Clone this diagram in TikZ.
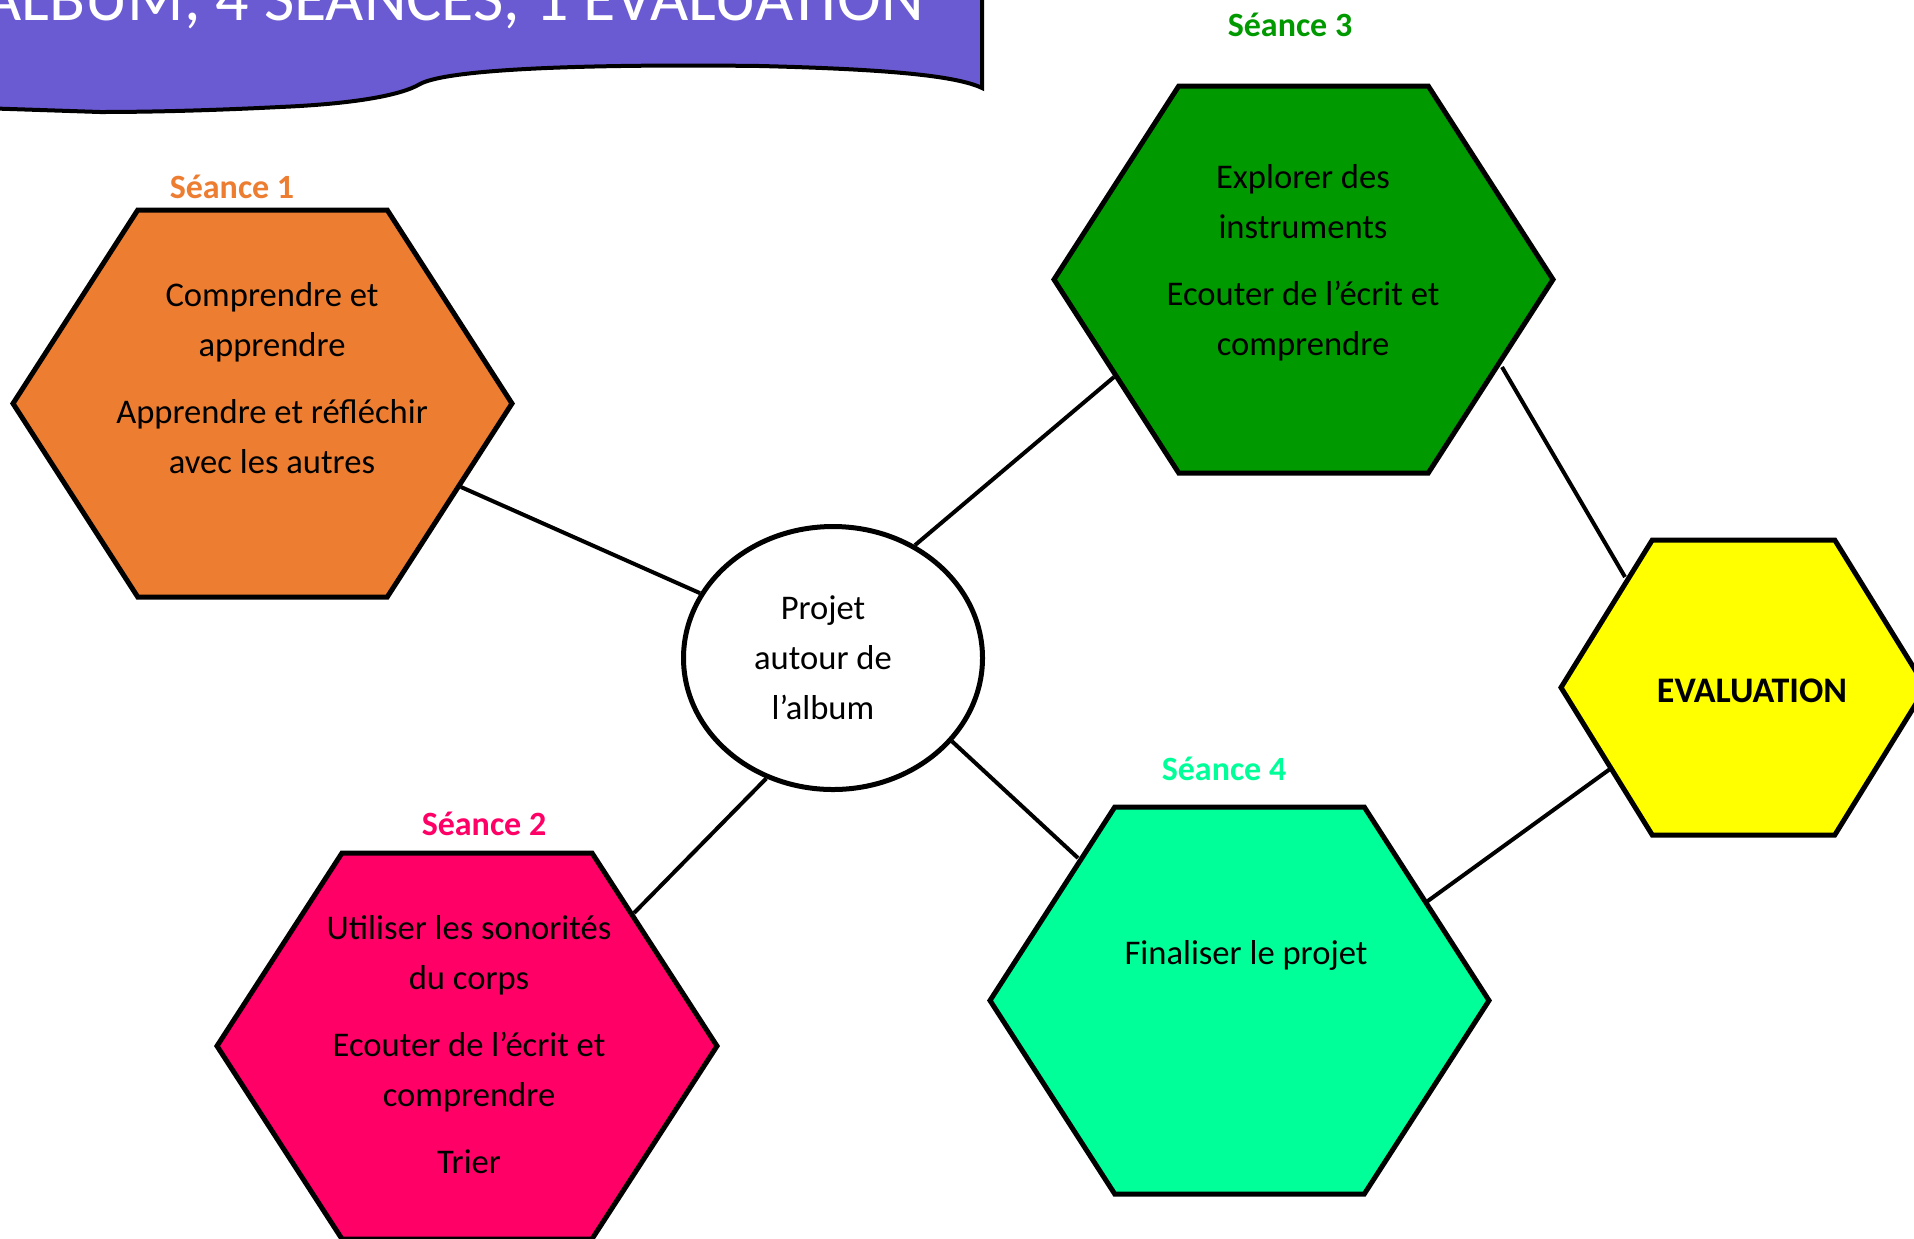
\documentclass[tikz,border=0pt]{standalone}
\usepackage{fontspec}
\setmainfont{Carlito}
\usetikzlibrary{shapes.geometric}
\definecolor{cOrange}{HTML}{ED7D31}
\definecolor{cGreen}{HTML}{009900}
\definecolor{cPink}{HTML}{FF0066}
\definecolor{cTeal}{HTML}{00FF99}
\definecolor{cYellow}{HTML}{FFFF00}
\definecolor{cPurple}{HTML}{6B5BD3}
\newcommand\mystrut{\rule[-0.25em]{0pt}{1em}}
% #1 name, #2 cx, #3 cy, #4 width, #5 height, #6 fill
\newcommand\hexa[6]{%
  \coordinate (#1) at (#2,#3);
  \path[hexshape, fill=#6] (#2-#4/2,#3) -- (#2-#4/4,#3-#5/2) -- (#2+#4/4,#3-#5/2)
    -- (#2+#4/2,#3) -- (#2+#4/4,#3+#5/2) -- (#2-#4/4,#3+#5/2) -- cycle;}
\tikzset{
  hexshape/.style={draw=black, line width=2.5pt, line join=miter},
  link/.style={draw=black, line width=2pt},
  bodytext/.style={align=center, inner sep=0pt, font=\fontsize{17.3pt}{25pt}\selectfont},
  seancelab/.style={anchor=base, inner sep=0pt, font=\fontsize{17pt}{20pt}\selectfont\bfseries},
}
\begin{document}
\begin{tikzpicture}[x=0.5pt,y=-0.5pt]
\useasboundingbox (0,0) rectangle (1914,1238);
\clip (0,0) rectangle (1914,1238);
% title banner
\path[fill=cPurple, draw=black, line width=2pt] (-20,-80) -- (982,-80) -- (982,88)
  .. controls (955,75) and (880,69) .. (760,66)
  .. controls (600,64) and (450,68) .. (420,84)
  .. controls (400,96) and (350,104) .. (280,107)
  .. controls (200,111) and (140,112) .. (100,112)
  -- (-20,108) -- cycle;
\node[anchor=base east, inner sep=0pt, text=white, font=\fontsize{33pt}{40pt}\selectfont] (title) at (924,20) {ALBUM, 4 SÉANCES, 1 ÉVALUATION};
% centre
\node[ellipse, draw=black, line width=2.5pt, fill=white, minimum width=149.5pt, minimum height=131.5pt, inner sep=0pt] (ctr) at (833,658) {};
% connector end points
\coordinate (h1e) at (461,487);
\coordinate (h3a) at (1114,377);
\coordinate (h2e) at (634,913);
\coordinate (h4a) at (1078,858);
\coordinate (h3b) at (1502,367);
\coordinate (eva) at (1625,577);
\coordinate (h4b) at (1425,903);
\coordinate (evb) at (1610,769);
\draw[link] (ctr.154) -- (h1e);
\draw[link] (ctr.54) -- (h3a);
\draw[link] (ctr.-119) -- (h2e);
\draw[link] (ctr.-35) -- (h4a);
\draw[link] (h3b) -- (eva);
\draw[link] (h4b) -- (evb);
% hexagons
\hexa{hexA}{262.5}{403.5}{499}{387}{cOrange}
\hexa{hexC}{1303.5}{279.5}{499}{387}{cGreen}
\hexa{hexB}{467}{1046}{500}{386}{cPink}
\hexa{hexD}{1239.5}{1000.5}{499}{387}{cTeal}
\hexa{hexE}{1743.5}{687.5}{365}{295}{cYellow}
% labels
\node[seancelab, text=cOrange] (l1) at (232,198.3) {Séance 1};
\node[seancelab, text=cGreen] (l3) at (1290,36.7) {Séance 3};
\node[seancelab, text=cPink] (l2) at (484,835) {Séance 2};
\node[seancelab, text=cTeal] (l4) at (1224,780) {Séance 4};
% texts
\node[bodytext] (t1) at (272,381.5) {\mystrut Comprendre et\\apprendre\\[8.5pt]Apprendre et réfléchir\\avec les autres\mystrut};
\node[bodytext] (t3) at (1303,263.5) {\mystrut Explorer des\\instruments\\[8.5pt]Ecouter de l’écrit et\\comprendre\mystrut};
\node[bodytext] (t2) at (469,1047.5) {\mystrut Utiliser les sonorités\\du corps\\[8.5pt]Ecouter de l’écrit et\\comprendre\\[8.5pt]Trier\mystrut};
\node[bodytext, anchor=base] (t4) at (1246,964) {Finaliser le projet};
\node[bodytext] (tc) at (823,660.5) {\mystrut Projet\\autour de\\l’album\mystrut};
\node[anchor=base, inner sep=0pt, font=\fontsize{18pt}{21pt}\selectfont\bfseries] (tev) at (1752,702.5) {EVALUATION};
\end{tikzpicture}
\end{document}
